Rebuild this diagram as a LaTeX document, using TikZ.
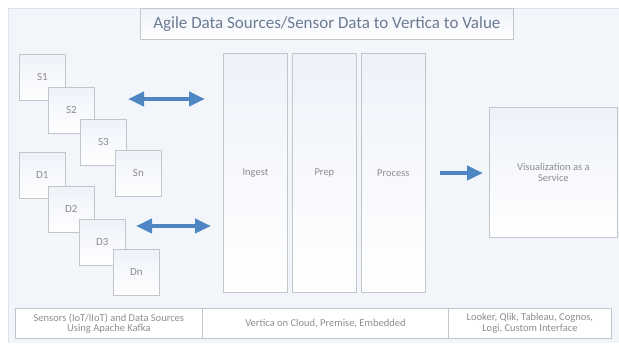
\documentclass[tikz,border=0pt]{standalone}
\usepackage{fontspec}
\setmainfont{Carlito}
\usetikzlibrary{arrows.meta}
\definecolor{panelbg}{HTML}{F2F6FB}
\definecolor{panelline}{HTML}{DDE3EA}
\definecolor{boxline}{HTML}{C2C5CA}
\definecolor{boxtop}{HTML}{EEF2F9}
\definecolor{txtgray}{HTML}{8E8E8E}
\definecolor{titletxt}{HTML}{6B7B93}
\definecolor{arrowblue}{HTML}{4E86C4}
\tikzset{
  srcbox/.style={draw=boxline, line width=0.8pt, top color=boxtop, bottom color=white,
    minimum width=46pt, minimum height=46pt, anchor=north west, inner sep=0pt,
    text=txtgray, font=\fontsize{11}{12}\selectfont},
  colbox/.style={draw=boxline, line width=0.8pt, top color=boxtop, bottom color=white,
    minimum width=64pt, minimum height=239pt, anchor=north west, inner sep=0pt,
    text=txtgray, font=\fontsize{10.5}{12}\selectfont},
  cellbox/.style={draw=boxline, line width=0.8pt, fill=white, minimum height=30pt,
    anchor=north west, inner sep=0pt, align=center, text=txtgray,
    font=\fontsize{10.5}{10.5}\selectfont},
  bluearrow/.style={draw=arrowblue, line width=4pt},
}
\begin{document}
\begin{tikzpicture}[x=1pt,y=-1pt]
\useasboundingbox (0,0) rectangle (619,343);
\fill[white] (0,0) rectangle (619,343);
\fill[panelbg] (8,8) rectangle (619,343);
\draw[panelline, line width=0.8pt] (619,8) -- (8,8) -- (8,343);
% title
\node[draw=boxline, line width=0.8pt, top color=boxtop, bottom color=white,
  minimum width=373pt, minimum height=31pt, anchor=north west, inner sep=0pt,
  text=titletxt, font=\fontsize{17}{19}\selectfont] (title) at (140,8)
  {Agile Data Sources/Sensor Data to Vertica to Value};
% sources
\node[srcbox] (s1) at (19,54) {S1};
\node[srcbox] (s2) at (48,87) {S2};
\node[srcbox] (s3) at (80,119) {S3};
\node[srcbox] (sn) at (115,150) {Sn};
\node[srcbox] (d1) at (19,152) {D1};
\node[srcbox] (d2) at (48,186) {D2};
\node[srcbox] (d3) at (79,219) {D3};
\node[srcbox] (dn) at (113,249) {Dn};
% columns
\node[colbox] (ingest) at (223,53) {Ingest};
\node[colbox] (prep) at (292,53) {Prep};
\node[colbox] (process) at (361,53) {Process};
% visualization
\node[draw=boxline, line width=0.8pt, top color=boxtop, bottom color=white,
  minimum width=128pt, minimum height=130pt, anchor=north west, inner sep=0pt,
  align=center, text=txtgray, font=\fontsize{10.5}{11}\selectfont] (vis) at (489,107)
  {Visualization as a\\Service};
% arrows
\coordinate (a1l) at (128,99);
\coordinate (a1r) at (205,99);
\coordinate (a2l) at (136,226);
\coordinate (a2r) at (211,226);
\coordinate (a3l) at (440,173);
\coordinate (a3r) at (483,173);
\draw[bluearrow, {Triangle[length=16pt,width=14pt]}-{Triangle[length=16pt,width=14pt]}] (a1l) -- (a1r);
\draw[bluearrow, {Triangle[length=16pt,width=14pt]}-{Triangle[length=16pt,width=14pt]}] (a2l) -- (a2r);
\draw[bluearrow, -{Triangle[length=16pt,width=14pt]}] (a3l) -- (a3r);
% bottom bar
\node[cellbox, minimum width=187pt] (c1) at (15,308) {Sensors (IoT/IIoT) and Data Sources\\Using Apache Kafka};
\node[cellbox, minimum width=246pt] (c2) at (202,308) {Vertica on Cloud, Premise, Embedded};
\node[cellbox, minimum width=163pt] (c3) at (448,308) {Looker, Qlik, Tableau, Cognos,\\Logi, Custom Interface};
\end{tikzpicture}
\end{document}
